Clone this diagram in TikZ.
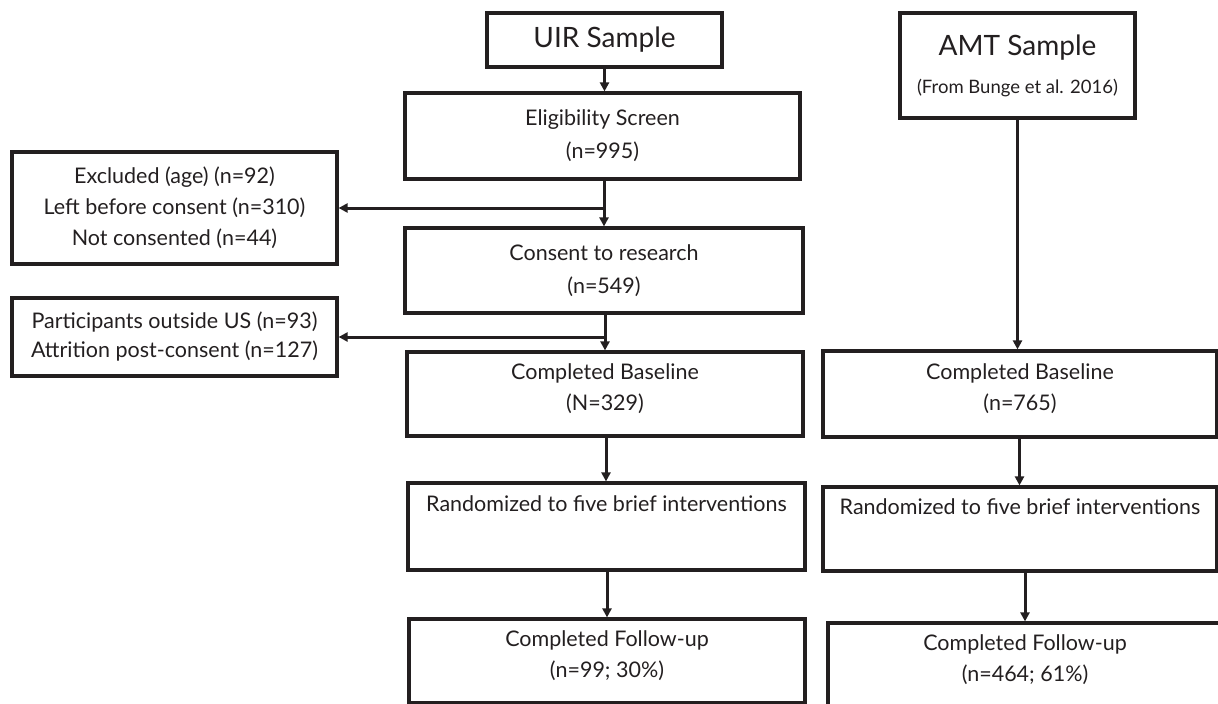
\documentclass[tikz,border=0pt]{standalone}
\usepackage{fontspec}
\setmainfont{Lato}
\usetikzlibrary{arrows.meta}
\definecolor{ink}{HTML}{231F20}
\tikzset{
  box/.style={draw=ink, text=ink, line width=3.2pt, align=center, inner sep=0pt,
    font=\fontsize{21.5}{31}\selectfont},
  arr/.style={draw=ink, line width=3pt, -{Triangle[length=9pt,width=9pt]}},
  ln/.style={draw=ink, line width=3pt}
}
\begin{document}
\begin{tikzpicture}[x=1pt,y=-1pt]
\useasboundingbox (0,0) rectangle (1218,704);
% UIR column
\node[box, minimum width=235pt, minimum height=54pt, font=\fontsize{28}{32}\selectfont] (uir) at (604.5,40) {UIR Sample};
\node[box, minimum width=395pt, minimum height=86pt, font=\fontsize{21.5}{33}\selectfont] (elig) at (602.5,136) {Eligibility Screen\\(n=995)};
\node[box, minimum width=398pt, minimum height=85pt, font=\fontsize{21.5}{33}\selectfont] (consent) at (604,270.5) {Consent to research\\(n=549)};
\node[box, minimum width=396pt, minimum height=84pt] (baseU) at (605,394) {Completed Baseline\\(N=329)\\[-18pt]\mbox{}};
\node[box, minimum width=397pt, minimum height=87pt] (randU) at (606.5,526.5) {Randomized to five brief interventions\\[14pt]\mbox{}};
\node[box, minimum width=396pt, minimum height=84pt] (followU) at (607,661) {Completed Follow-up\\(n=99; 30\%)\\[-18pt]\mbox{}};
% exclusion boxes
\node[box, minimum width=325pt, minimum height=112pt] (excl) at (174.5,208) {Excluded (age) (n=92)\\Left before consent (n=310)\\Not consented (n=44)};
\node[box, minimum width=325pt, minimum height=78pt, font=\fontsize{21.5}{29}\selectfont] (outside) at (174.5,337) {Participants outside US (n=93)\\Attrition post-consent (n=127)};
% AMT column
\node[box, minimum width=235pt, minimum height=105pt, font=\fontsize{28}{32}\selectfont] (amt) at (1017.5,65.5) {AMT Sample\\[6pt]{\fontsize{18.5}{20}\selectfont (From Bunge et al. 2016)}};
\node[box, minimum width=394pt, minimum height=86pt] (baseA) at (1020,394) {Completed Baseline\\(n=765)\\[-18pt]\mbox{}};
\node[box, minimum width=394pt, minimum height=84pt] (randA) at (1020,529) {Randomized to five brief interventions\\[14pt]\mbox{}};
\node[box, minimum width=394pt, minimum height=84pt] (followA) at (1025,665) {Completed Follow-up\\(n=464; 61\%)\\[-18pt]\mbox{}};
% connectors UIR
\draw[arr] (uir.south) -- (uir.south |- elig.north);
\coordinate (b1) at (604,208);
\draw[arr] (elig.south -| b1) -- (consent.north -| b1);
\draw[arr] (b1) -- (excl.east |- b1);
\coordinate (b2) at (605,337);
\draw[arr] (consent.south -| b2) -- (baseU.north -| b2);
\draw[arr] (b2) -- (outside.east |- b2);
\coordinate (c1) at (606,0);
\draw[arr] (baseU.south -| c1) -- (randU.north -| c1);
\coordinate (c2) at (607,0);
\draw[arr] (randU.south -| c2) -- (followU.north -| c2);
% connectors AMT
\draw[arr] (amt.south) -- (amt.south |- baseA.north);
\coordinate (d1) at (1019.5,0);
\draw[arr] (baseA.south -| d1) -- (randA.north -| d1);
\coordinate (d2) at (1025,0);
\draw[arr] (randA.south -| d2) -- (followA.north -| d2);
\end{tikzpicture}
\end{document}
